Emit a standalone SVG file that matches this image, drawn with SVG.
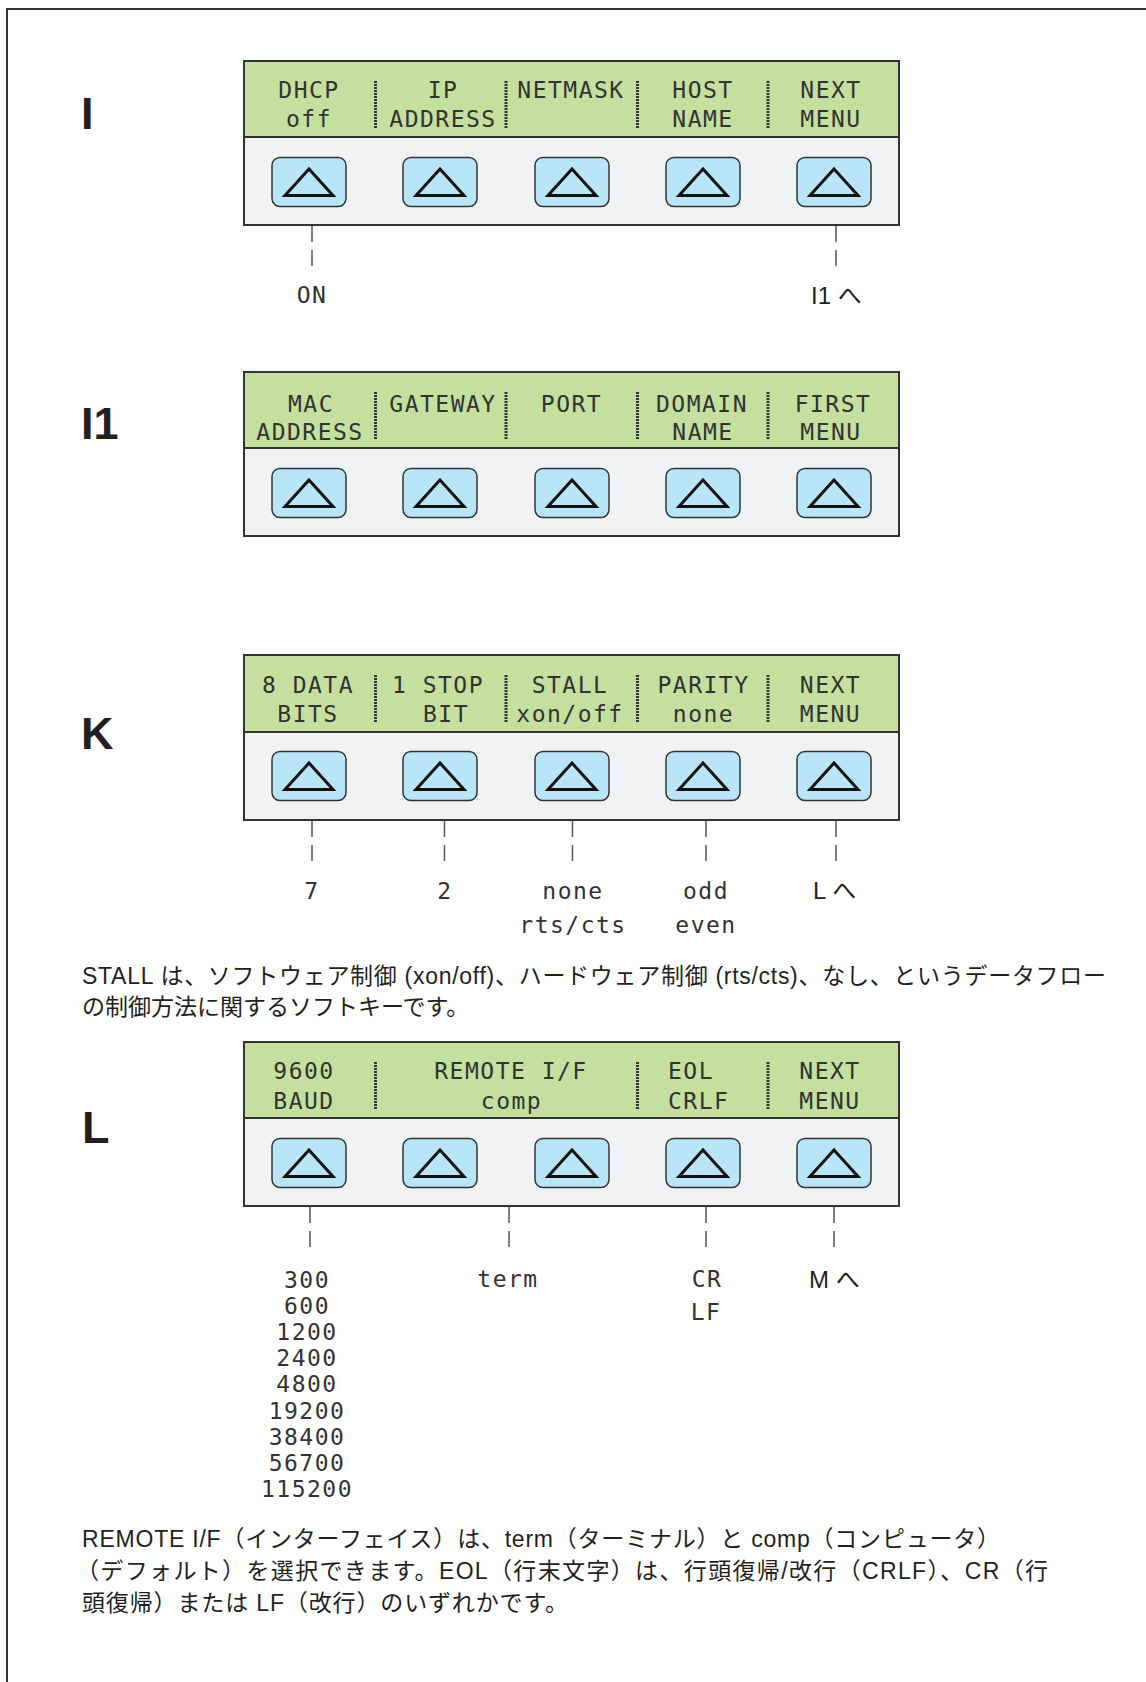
<svg xmlns="http://www.w3.org/2000/svg" width="1146" height="1682" viewBox="0 0 1146 1682">
<style>
.lcd{font-family:"DejaVu Sans Mono","Liberation Mono",monospace;font-size:23px;letter-spacing:1.5px;fill:#333;text-anchor:middle}
.st{text-anchor:start}
.sec{font-family:"Liberation Sans",Arial,sans-serif;font-weight:bold;font-size:45px;fill:#231f20}
.jp{font-family:"Liberation Sans","Noto Sans CJK JP",sans-serif;font-size:23px;fill:#231f20}
.nav{font-family:"Liberation Sans","Noto Sans CJK JP",sans-serif;font-size:24px;fill:#231f20}
.green{fill:#c5df9f}
.gray{fill:#f1f2f3}
.frame{fill:none;stroke:#333;stroke-width:2}
.sep{stroke:#333;stroke-width:2}
.div{stroke:#333;stroke-width:3;stroke-dasharray:2 1}
.conn{stroke:#555;stroke-width:1.5;stroke-dasharray:16 8;fill:none}
.btn rect{fill:#b9e5f8;stroke:#333;stroke-width:1.5}
.btn polygon{fill:none;stroke:#111;stroke-width:3}
.border{fill:none;stroke:#333;stroke-width:2}
</style>
<defs>
<g id="btn" class="btn"><rect x="-37" y="-24.5" width="74" height="49" rx="8"/><polygon points="0,-13 24,13.5 -24,13.5"/></g>
</defs>
<path class="border" d="M7,1682 V9 H1146"/>

<g id="sections">
<text class="sec" x="81" y="129">I</text>
<text class="sec" x="81" y="439">I1</text>
<text class="sec" x="81" y="749">K</text>
<text class="sec" x="82" y="1143">L</text>
</g>

<g id="panel-I">
<rect class="green" x="244" y="61" width="655" height="76"/>
<rect class="gray" x="244" y="137" width="655" height="88"/>
<line class="sep" x1="244" y1="137" x2="899" y2="137"/>
<rect class="frame" x="244" y="61" width="655" height="164"/>
<line class="div" x1="375.5" y1="81" x2="375.5" y2="128"/>
<line class="div" x1="506" y1="81" x2="506" y2="128"/>
<line class="div" x1="637.5" y1="81" x2="637.5" y2="128"/>
<line class="div" x1="768" y1="81" x2="768" y2="128"/>
<text class="lcd" x="309" y="98">DHCP</text><text class="lcd" x="309" y="127">off</text>
<text class="lcd" x="443" y="98">IP</text><text class="lcd" x="443" y="127">ADDRESS</text>
<text class="lcd" x="571" y="98">NETMASK</text>
<text class="lcd" x="703" y="98">HOST</text><text class="lcd" x="703" y="127">NAME</text>
<text class="lcd" x="831" y="98">NEXT</text><text class="lcd" x="831" y="127">MENU</text>
<use href="#btn" x="309" y="182"/><use href="#btn" x="440" y="182"/><use href="#btn" x="572" y="182"/><use href="#btn" x="703" y="182"/><use href="#btn" x="834" y="182"/>
</g>

<g id="panel-I1">
<rect class="green" x="244" y="372" width="655" height="76"/>
<rect class="gray" x="244" y="448" width="655" height="88"/>
<line class="sep" x1="244" y1="448" x2="899" y2="448"/>
<rect class="frame" x="244" y="372" width="655" height="164"/>
<line class="div" x1="375.5" y1="392" x2="375.5" y2="439"/>
<line class="div" x1="506" y1="392" x2="506" y2="439"/>
<line class="div" x1="637.5" y1="392" x2="637.5" y2="439"/>
<line class="div" x1="768" y1="392" x2="768" y2="439"/>
<text class="lcd" x="311" y="412">MAC</text><text class="lcd" x="310" y="440">ADDRESS</text>
<text class="lcd" x="443" y="412">GATEWAY</text>
<text class="lcd" x="571.5" y="412">PORT</text>
<text class="lcd" x="702" y="412">DOMAIN</text><text class="lcd" x="703" y="440">NAME</text>
<text class="lcd" x="833" y="412">FIRST</text><text class="lcd" x="831" y="440">MENU</text>
<use href="#btn" x="309" y="493"/><use href="#btn" x="440" y="493"/><use href="#btn" x="572" y="493"/><use href="#btn" x="703" y="493"/><use href="#btn" x="834" y="493"/>
</g>

<g id="panel-K">
<rect class="green" x="244" y="655" width="655" height="77"/>
<rect class="gray" x="244" y="732" width="655" height="88"/>
<line class="sep" x1="244" y1="732" x2="899" y2="732"/>
<rect class="frame" x="244" y="655" width="655" height="165"/>
<line class="div" x1="375.5" y1="675" x2="375.5" y2="722"/>
<line class="div" x1="506" y1="675" x2="506" y2="722"/>
<line class="div" x1="637.5" y1="675" x2="637.5" y2="722"/>
<line class="div" x1="768" y1="675" x2="768" y2="722"/>
<text class="lcd" x="308" y="693">8 DATA</text><text class="lcd" x="308" y="722">BITS</text>
<text class="lcd" x="438" y="693">1 STOP</text><text class="lcd" x="446" y="722">BIT</text>
<text class="lcd" x="570" y="693">STALL</text><text class="lcd" x="570" y="722">xon/off</text>
<text class="lcd" x="703.5" y="693">PARITY</text><text class="lcd" x="703.5" y="722">none</text>
<text class="lcd" x="830.5" y="693">NEXT</text><text class="lcd" x="830.5" y="722">MENU</text>
<use href="#btn" x="309" y="776"/><use href="#btn" x="440" y="776"/><use href="#btn" x="572" y="776"/><use href="#btn" x="703" y="776"/><use href="#btn" x="834" y="776"/>
</g>

<g id="panel-L">
<rect class="green" x="244" y="1042" width="655" height="76"/>
<rect class="gray" x="244" y="1118" width="655" height="88"/>
<line class="sep" x1="244" y1="1118" x2="899" y2="1118"/>
<rect class="frame" x="244" y="1042" width="655" height="164"/>
<line class="div" x1="375.5" y1="1062" x2="375.5" y2="1109"/>
<line class="div" x1="637.5" y1="1062" x2="637.5" y2="1109"/>
<line class="div" x1="768" y1="1062" x2="768" y2="1109"/>
<text class="lcd" x="304" y="1079">9600</text><text class="lcd" x="304" y="1109">BAUD</text>
<text class="lcd" x="511" y="1079">REMOTE I/F</text><text class="lcd" x="511.5" y="1109">comp</text>
<text class="lcd st" x="668" y="1079">EOL</text><text class="lcd st" x="668" y="1109">CRLF</text>
<text class="lcd" x="830" y="1079">NEXT</text><text class="lcd" x="830" y="1109">MENU</text>
<use href="#btn" x="309" y="1163"/><use href="#btn" x="440" y="1163"/><use href="#btn" x="572" y="1163"/><use href="#btn" x="703" y="1163"/><use href="#btn" x="834" y="1163"/>
</g>

<g id="connectors">
<line class="conn" x1="312" y1="226" x2="312" y2="266"/>
<line class="conn" x1="836" y1="226" x2="836" y2="266"/>
<line class="conn" x1="312" y1="821" x2="312" y2="861"/>
<line class="conn" x1="444.5" y1="821" x2="444.5" y2="861"/>
<line class="conn" x1="572.5" y1="821" x2="572.5" y2="861"/>
<line class="conn" x1="706" y1="821" x2="706" y2="861"/>
<line class="conn" x1="836" y1="821" x2="836" y2="861"/>
<line class="conn" x1="310" y1="1207" x2="310" y2="1247"/>
<line class="conn" x1="509" y1="1207" x2="509" y2="1247"/>
<line class="conn" x1="706" y1="1207" x2="706" y2="1247"/>
<line class="conn" x1="834" y1="1207" x2="834" y2="1247"/>
</g>

<g id="labels-I">
<text class="lcd" x="312" y="303">ON</text>
<text class="nav" x="811" y="304">I1 へ</text>
</g>

<g id="labels-K">
<text class="lcd" x="312" y="899">7</text>
<text class="lcd" x="445" y="899">2</text>
<text class="lcd" x="573" y="899">none</text><text class="lcd" x="573" y="933">rts/cts</text>
<text class="lcd" x="706" y="899">odd</text><text class="lcd" x="706" y="933">even</text>
<text class="nav" x="813" y="899">L へ</text>
</g>

<g id="labels-L">
<text class="lcd" x="307" y="1288">300</text>
<text class="lcd" x="307" y="1314">600</text>
<text class="lcd" x="307" y="1340">1200</text>
<text class="lcd" x="307" y="1366">2400</text>
<text class="lcd" x="307" y="1392">4800</text>
<text class="lcd" x="307" y="1419">19200</text>
<text class="lcd" x="307" y="1445">38400</text>
<text class="lcd" x="307" y="1471">56700</text>
<text class="lcd" x="307" y="1497">115200</text>
<text class="lcd" x="508" y="1287">term</text>
<text class="lcd" x="707" y="1287">CR</text><text class="lcd" x="706" y="1320">LF</text>
<text class="nav" x="809" y="1288">M へ</text>
</g>

<g id="note-K">
<text class="jp" x="82" y="984" textLength="1024" lengthAdjust="spacing">STALL は、ソフトウェア制御 (xon/off)、ハードウェア制御 (rts/cts)、なし、というデータフロー</text>
<text class="jp" x="82" y="1015">の制御方法に関するソフトキーです。</text>
</g>

<g id="note-L">
<text class="jp" x="82" y="1547" textLength="918" lengthAdjust="spacing">REMOTE I/F（インターフェイス）は、term（ターミナル）と comp（コンピュータ）</text>
<text class="jp" x="76" y="1579" textLength="972" lengthAdjust="spacing">（デフォルト）を選択できます。EOL（行末文字）は、行頭復帰/改行（CRLF）、CR（行</text>
<text class="jp" x="82" y="1611" textLength="486" lengthAdjust="spacing">頭復帰）または LF（改行）のいずれかです。</text>
</g>
</svg>
